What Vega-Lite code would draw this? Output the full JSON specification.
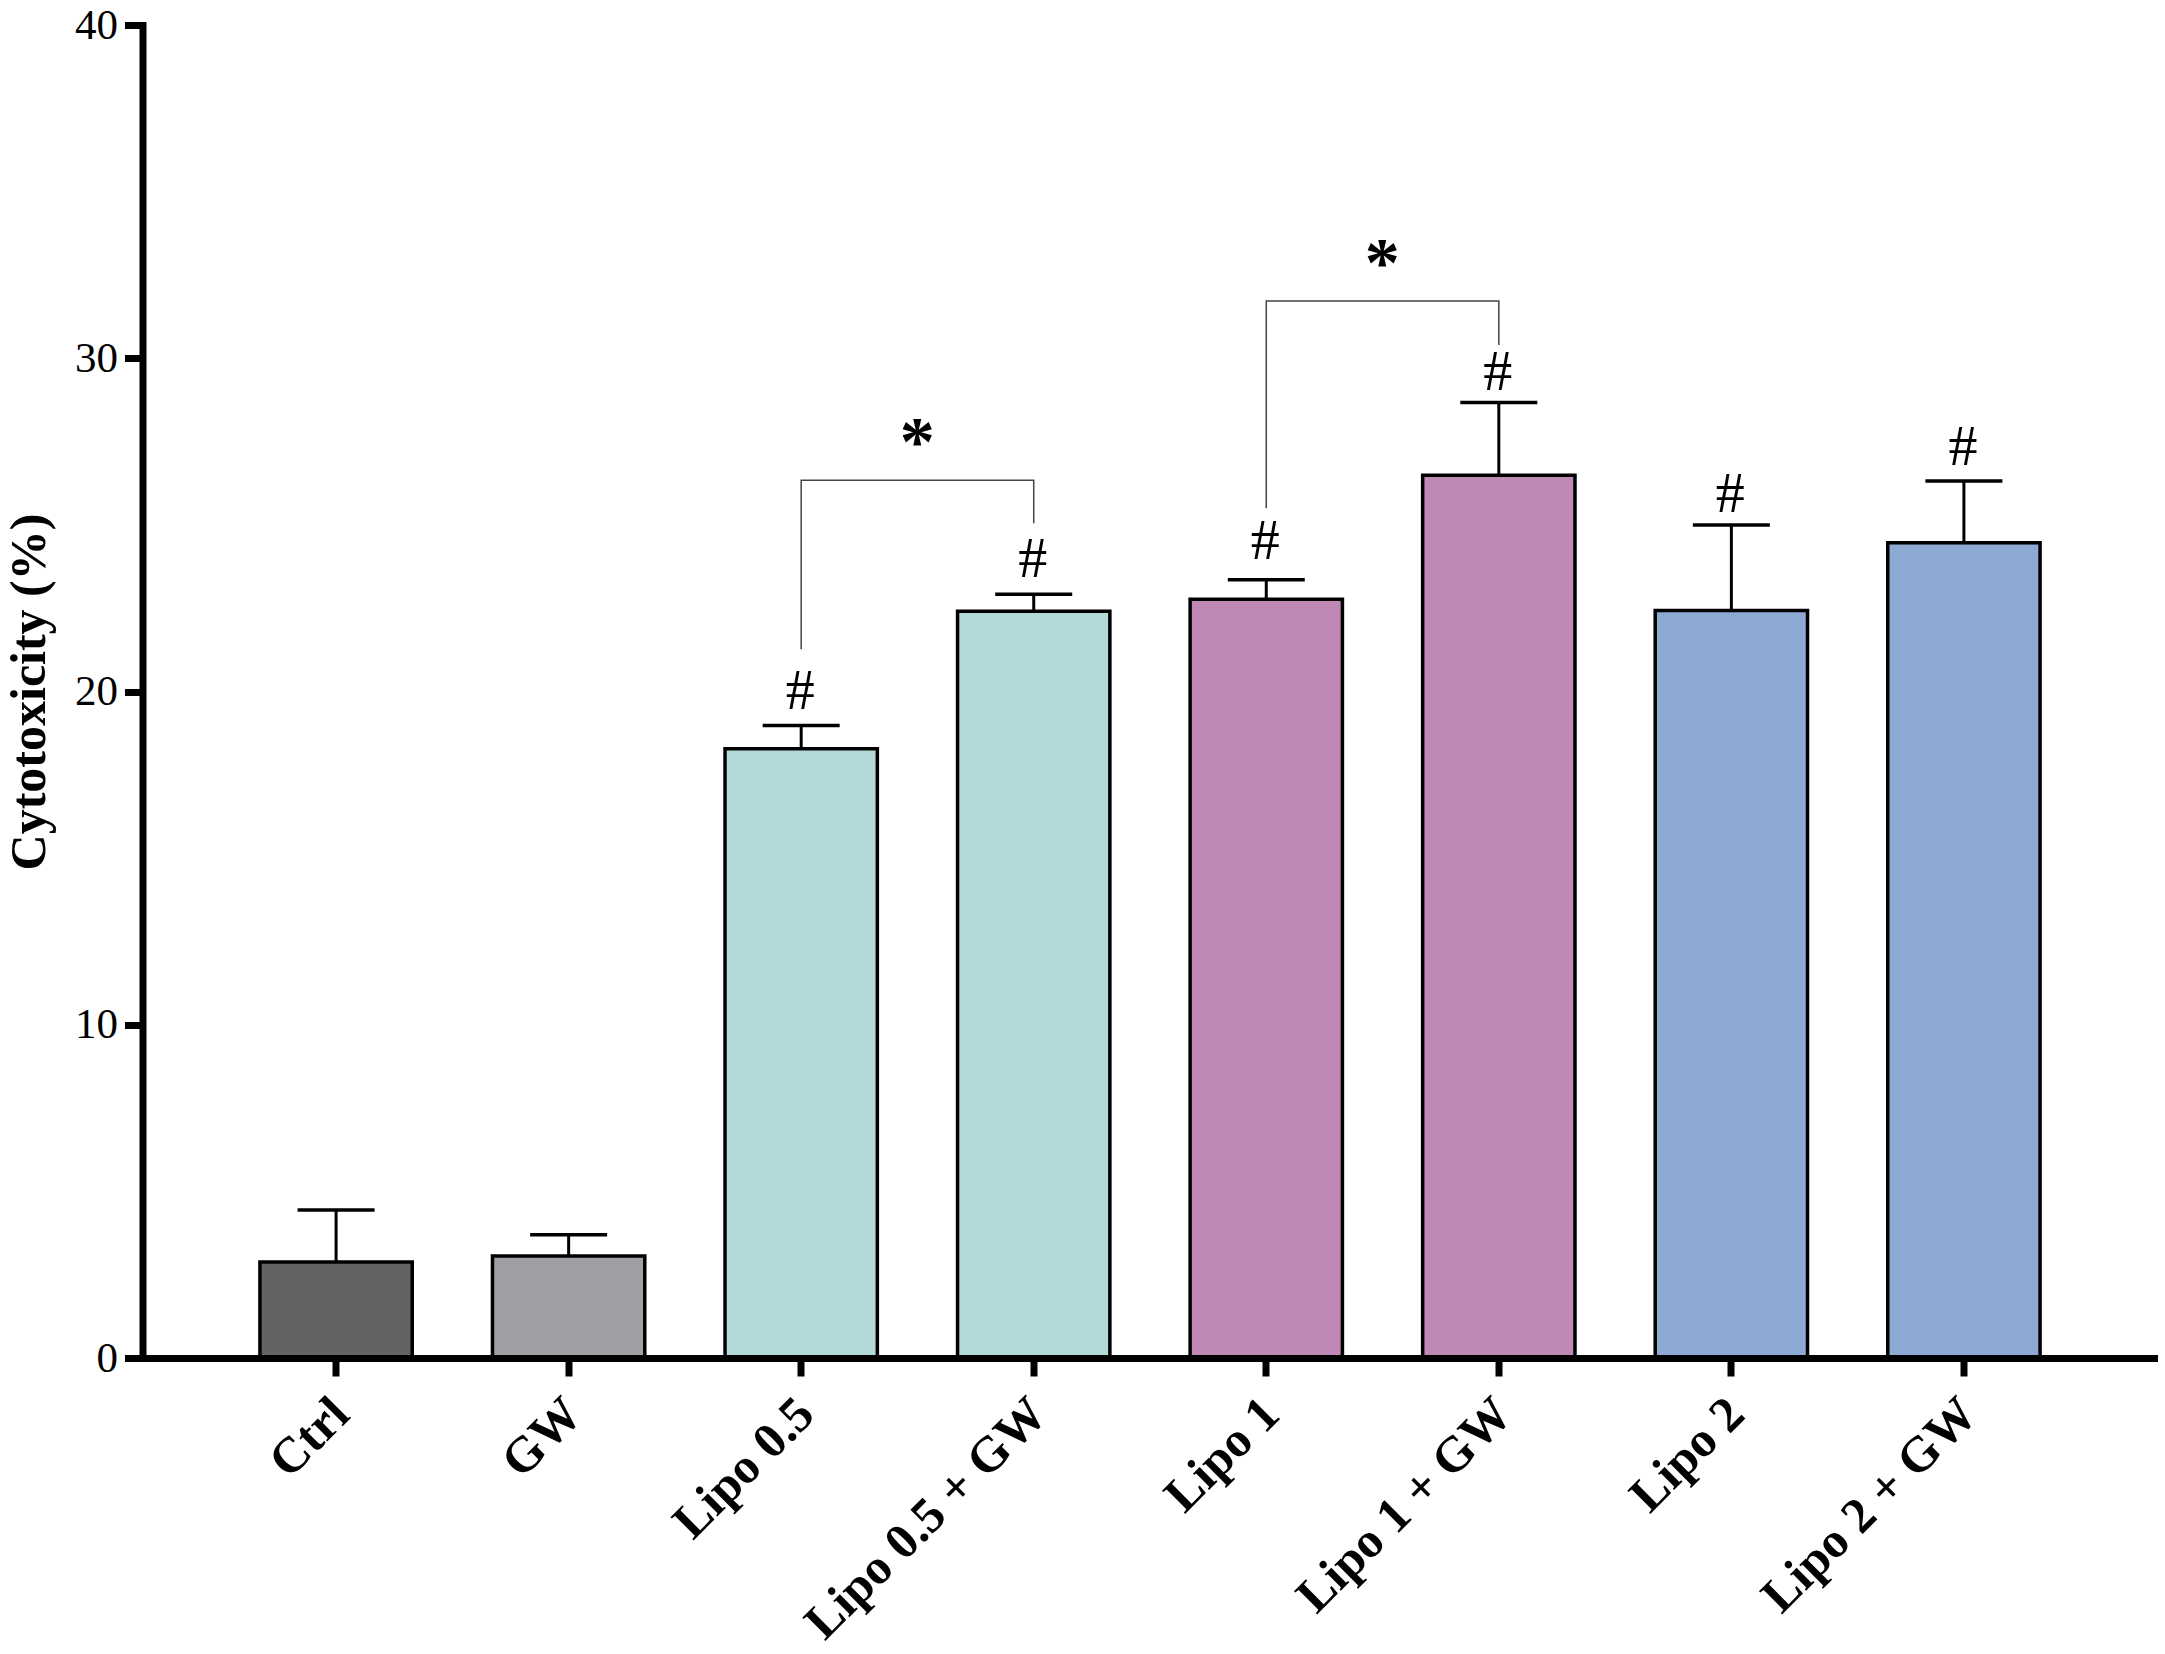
{
  "$schema": "https://vega.github.io/schema/vega-lite/v6.json",
  "width": 2015,
  "height": 1333,
  "autosize": "none",
  "padding": {"left": 142.5, "top": 25, "right": 7.5, "bottom": 296},
  "background": "white",
  "config": {"view": {"stroke": null}},
  "datasets": {
    "bars": [
      {"group": "Ctrl", "treatment": "Ctrl", "mean": 2.88, "upper": 4.44},
      {"group": "GW", "treatment": "GW", "mean": 3.06, "upper": 3.7},
      {"group": "Lipo 0.5", "treatment": "Lipo 0.5", "mean": 18.28, "upper": 18.98, "sig": "#", "sigY": 20.0},
      {"group": "Lipo 0.5", "treatment": "Lipo 0.5 + GW", "mean": 22.41, "upper": 22.92, "sig": "#", "sigY": 23.95},
      {"group": "Lipo 1", "treatment": "Lipo 1", "mean": 22.77, "upper": 23.35, "sig": "#", "sigY": 24.48},
      {"group": "Lipo 1", "treatment": "Lipo 1 + GW", "mean": 26.49, "upper": 28.67, "sig": "#", "sigY": 29.56},
      {"group": "Lipo 2", "treatment": "Lipo 2", "mean": 22.43, "upper": 25.0, "sig": "#", "sigY": 25.9},
      {"group": "Lipo 2", "treatment": "Lipo 2 + GW", "mean": 24.46, "upper": 26.32, "sig": "#", "sigY": 27.3}
    ],
    "brackets": [
      {"bracket": "a", "seq": 1, "treatment": "Lipo 0.5", "y": 21.27},
      {"bracket": "a", "seq": 2, "treatment": "Lipo 0.5", "y": 26.34},
      {"bracket": "a", "seq": 3, "treatment": "Lipo 0.5 + GW", "y": 26.34},
      {"bracket": "a", "seq": 4, "treatment": "Lipo 0.5 + GW", "y": 25.05},
      {"bracket": "b", "seq": 1, "treatment": "Lipo 1", "y": 25.5},
      {"bracket": "b", "seq": 2, "treatment": "Lipo 1", "y": 31.72},
      {"bracket": "b", "seq": 3, "treatment": "Lipo 1 + GW", "y": 31.72},
      {"bracket": "b", "seq": 4, "treatment": "Lipo 1 + GW", "y": 30.4}
    ],
    "stars": [
      {"treatment": "Lipo 0.5", "y": 27.8, "star": "*"},
      {"treatment": "Lipo 1", "y": 33.17, "star": "*"}
    ]
  },
  "encoding": {
    "x": {
      "field": "treatment",
      "type": "nominal",
      "scale": {
        "domain": ["Ctrl", "GW", "Lipo 0.5", "Lipo 0.5 + GW", "Lipo 1", "Lipo 1 + GW", "Lipo 2", "Lipo 2 + GW"],
        "paddingInner": 0.345,
        "paddingOuter": 0.505
      },
      "axis": {
        "title": null,
        "labelAngle": -45,
        "labelAlign": "right",
        "labelBaseline": "middle",
        "labelFont": "Liberation Serif",
        "labelFontWeight": "bold",
        "labelFontSize": 50,
        "labelColor": "black",
        "labelPadding": 30,
        "labelOffset": 5,
        "labelLimit": 600,
        "domainColor": "black",
        "domainWidth": 7,
        "tickColor": "black",
        "tickWidth": 7,
        "tickSize": 18,
        "zindex": 1
      }
    }
  },
  "layer": [
    {
      "data": {"name": "bars"},
      "mark": {"type": "rule", "color": "black", "strokeWidth": 3},
      "encoding": {
        "y": {"field": "mean", "type": "quantitative"},
        "y2": {"field": "upper"}
      }
    },
    {
      "data": {"name": "bars"},
      "mark": {"type": "tick", "color": "black", "size": 77, "thickness": 3.5, "opacity": 1},
      "encoding": {
        "y": {"field": "upper", "type": "quantitative"}
      }
    },
    {
      "data": {"name": "bars"},
      "mark": {"type": "bar", "stroke": "black", "strokeWidth": 3.5},
      "encoding": {
        "y": {
          "field": "mean",
          "type": "quantitative",
          "scale": {"domain": [0, 40]},
          "axis": {
            "title": "Cytotoxicity (%)",
            "values": [0, 10, 20, 30, 40],
            "grid": false,
            "titleFont": "Liberation Serif",
            "titleFontWeight": "bold",
            "titleFontSize": 50,
            "titleColor": "black",
            "titlePadding": 20,
            "labelFont": "Liberation Serif",
            "labelFontSize": 43,
            "labelColor": "black",
            "labelPadding": 7,
            "domainColor": "black",
            "domainWidth": 7,
            "domainCap": "square",
            "tickColor": "black",
            "tickWidth": 7,
            "tickSize": 18,
            "zindex": 1
          }
        },
        "color": {
          "field": "group",
          "type": "nominal",
          "legend": null,
          "scale": {
            "domain": ["Ctrl", "GW", "Lipo 0.5", "Lipo 1", "Lipo 2"],
            "range": ["#636363", "#a09fa4", "#b3dad8", "#bf88b5", "#8caad3"]
          }
        }
      }
    },
    {
      "data": {"name": "bars"},
      "transform": [{"filter": "datum.sig"}],
      "mark": {"type": "text", "font": "Liberation Serif", "fontSize": 58, "color": "black", "baseline": "middle", "dx": -1},
      "encoding": {
        "y": {"field": "sigY", "type": "quantitative"},
        "text": {"field": "sig"}
      }
    },
    {
      "data": {"name": "brackets"},
      "mark": {"type": "line", "color": "#444444", "strokeWidth": 1.5},
      "encoding": {
        "y": {"field": "y", "type": "quantitative"},
        "detail": {"field": "bracket"},
        "order": {"field": "seq"}
      }
    },
    {
      "data": {"name": "stars"},
      "mark": {"type": "text", "font": "Liberation Serif", "fontWeight": "bold", "fontSize": 70, "color": "black", "baseline": "middle", "dx": 116, "dy": 12},
      "encoding": {
        "y": {"field": "y", "type": "quantitative"},
        "text": {"field": "star"}
      }
    }
  ]
}
